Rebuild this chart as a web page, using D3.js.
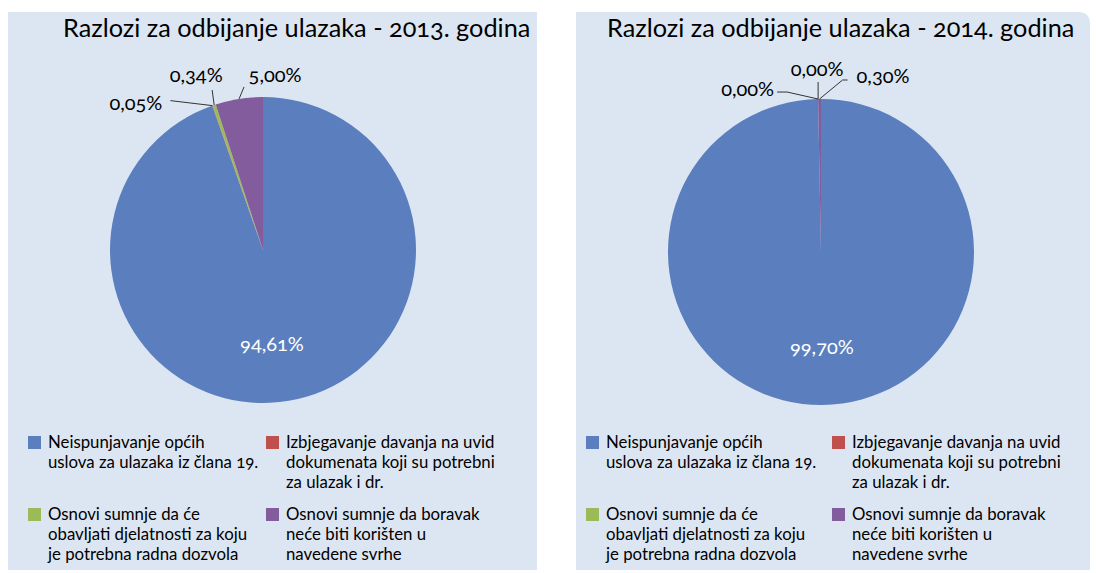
<!DOCTYPE html>
<html>
<head>
<meta charset="utf-8">
<script src="https://cdn.jsdelivr.net/npm/d3@7/dist/d3.min.js"></script>
<style>
	body { margin: 0; background: #fff; }
	text { font-family: Lato, "Open Sans", sans-serif; font-variant-numeric: oldstyle-nums; }
</style>
</head>
<body>
<div id="chart"></div>
<script>
var categories = [
	"Neispunjavanje općih uslova za ulazaka iz člana 19.",
	"Izbjegavanje davanja na uvid dokumenata koji su potrebni za ulazak i dr.",
	"Osnovi sumnje da će obavljati djelatnosti za koju je potrebna radna dozvola",
	"Osnovi sumnje da boravak neće biti korišten u navedene svrhe"
];
var legendLines = [
	["Neispunjavanje općih", "uslova za ulazaka iz člana 19."],
	["Izbjegavanje davanja na uvid", "dokumenata koji su potrebni", "za ulazak i dr."],
	["Osnovi sumnje da će", "obavljati djelatnosti za koju", "je potrebna radna dozvola"],
	["Osnovi sumnje da boravak", "neće biti korišten u", "navedene svrhe"]
];
var colors = ["#5b7fbe", "#c0504d", "#9bbb59", "#835c9d"];
var titles = ["Razlozi za odbijanje ulazaka - 2013. godina", "Razlozi za odbijanje ulazaka - 2014. godina"];
var values2013 = [94.61, 0.05, 0.34, 5.00];
var values2014 = [99.70, 0.00, 0.00, 0.30];

// layout of the two panels (positions only)
var panels = [
	{ x: 8, w: 529, titleX: 55, cx: 255, cy: 250, r: 153, values: values2013, title: titles[0],
	  legX: [20, 258], innerDx: -7,
	  labels: [
		null,
		{ tx: -50, ty: 4, anchor: "end", path: [[-42, -5]] },
		{ tx: -18, ty: -23, anchor: "middle", path: [[-2, -15]] },
		{ tx: 36, ty: -17, anchor: "middle", path: [[5, -12]] }
	  ] },
	{ x: 576, w: 514, titleX: 31, cx: 245, cy: 252, r: 153, values: values2014, title: titles[1],
	  legX: [10, 256], innerDx: 0,
	  labels: [
		null,
		{ tx: -44, ty: -3, anchor: "end", path: [[-31, -7], [-41, -7]] },
		{ tx: -1, ty: -23, anchor: "middle", path: [[0, -17]] },
		{ tx: 37, ty: -16, anchor: "start", path: [[23, -19], [28, -19]] }
	  ] }
];

var width = 1096, height = 573;
var fmt = function(v) { return d3.format(".2f")(v).replace(".", ",") + "%"; };

var svg = d3.select("#chart").append("svg")
	.attr("width", width)
	.attr("height", height);

var pie = d3.pie().sort(null).value(function(d) { return d; });

panels.forEach(function(p, pi) {
	var g = svg.append("g").attr("transform", "translate(" + p.x + ",12)");

	// background
	if (pi === 0) {
		g.append("rect").attr("width", p.w).attr("height", 558).style("fill", "#dce6f2");
	} else {
		g.append("path")
			.attr("d", "M0,0H" + (p.w - 12) + "Q" + p.w + ",0 " + p.w + ",12V558H0Z")
			.style("fill", "#dce6f2");
	}

	g.append("text")
		.attr("x", p.titleX)
		.attr("y", 25)
		.style("font-size", "25.3px")
		.style("fill", "#000")
		.text(p.title);

	var arcs = pie(p.values);
	var arc = d3.arc().innerRadius(0).outerRadius(p.r);
	var pg = g.append("g").attr("transform", "translate(" + p.cx + "," + (p.cy - 12) + ")");

	pg.selectAll(".slice")
		.data(arcs)
		.enter().append("path")
		.attr("class", "slice")
		.attr("d", arc)
		.style("fill", function(d, i) { return colors[i]; });

	// inside label for the big slice
	var inner = d3.arc().innerRadius(0).outerRadius(p.r * 1.24);
	var c = inner.centroid(arcs[0]);
	pg.append("text")
		.attr("x", c[0] + p.innerDx)
		.attr("y", c[1] + 7)
		.attr("text-anchor", "middle")
		.style("font-size", "20px")
		.style("fill", "#fff")
		.text(fmt(p.values[0]));

	// outside labels with leader lines
	arcs.forEach(function(a, i) {
		var lab = p.labels[i];
		if (!lab) return;
		var mid = (a.startAngle + a.endAngle) / 2;
		var ax = Math.sin(mid) * p.r, ay = -Math.cos(mid) * p.r;
		var pts = [[ax, ay]].concat(lab.path.map(function(o) { return [ax + o[0], ay + o[1]]; }));
		pg.append("path")
			.attr("d", d3.line()(pts))
			.style("fill", "none")
			.style("stroke", "#333")
			.style("stroke-width", 1);
		pg.append("text")
			.attr("x", ax + lab.tx)
			.attr("y", ay + lab.ty)
			.attr("text-anchor", lab.anchor)
			.style("font-size", "20px")
			.style("fill", "#000")
			.text(fmt(a.data));
	});

	// legend
	var rowsY = [424, 496];
	categories.forEach(function(cat, i) {
		var col = i % 2, row = Math.floor(i / 2);
		var lx = p.legX[col], ly = rowsY[row];
		g.append("rect")
			.attr("x", lx)
			.attr("y", ly)
			.attr("width", 13)
			.attr("height", 13)
			.style("fill", colors[i]);
		var t = g.append("text")
			.attr("x", lx + 20)
			.attr("y", ly + 12)
			.style("font-size", "16.8px")
			.style("fill", "#000");
		legendLines[i].forEach(function(line, li) {
			t.append("tspan").attr("x", lx + 20).attr("dy", li === 0 ? 0 : 20).text(line);
		});
	});
});
</script>
</body>
</html>
